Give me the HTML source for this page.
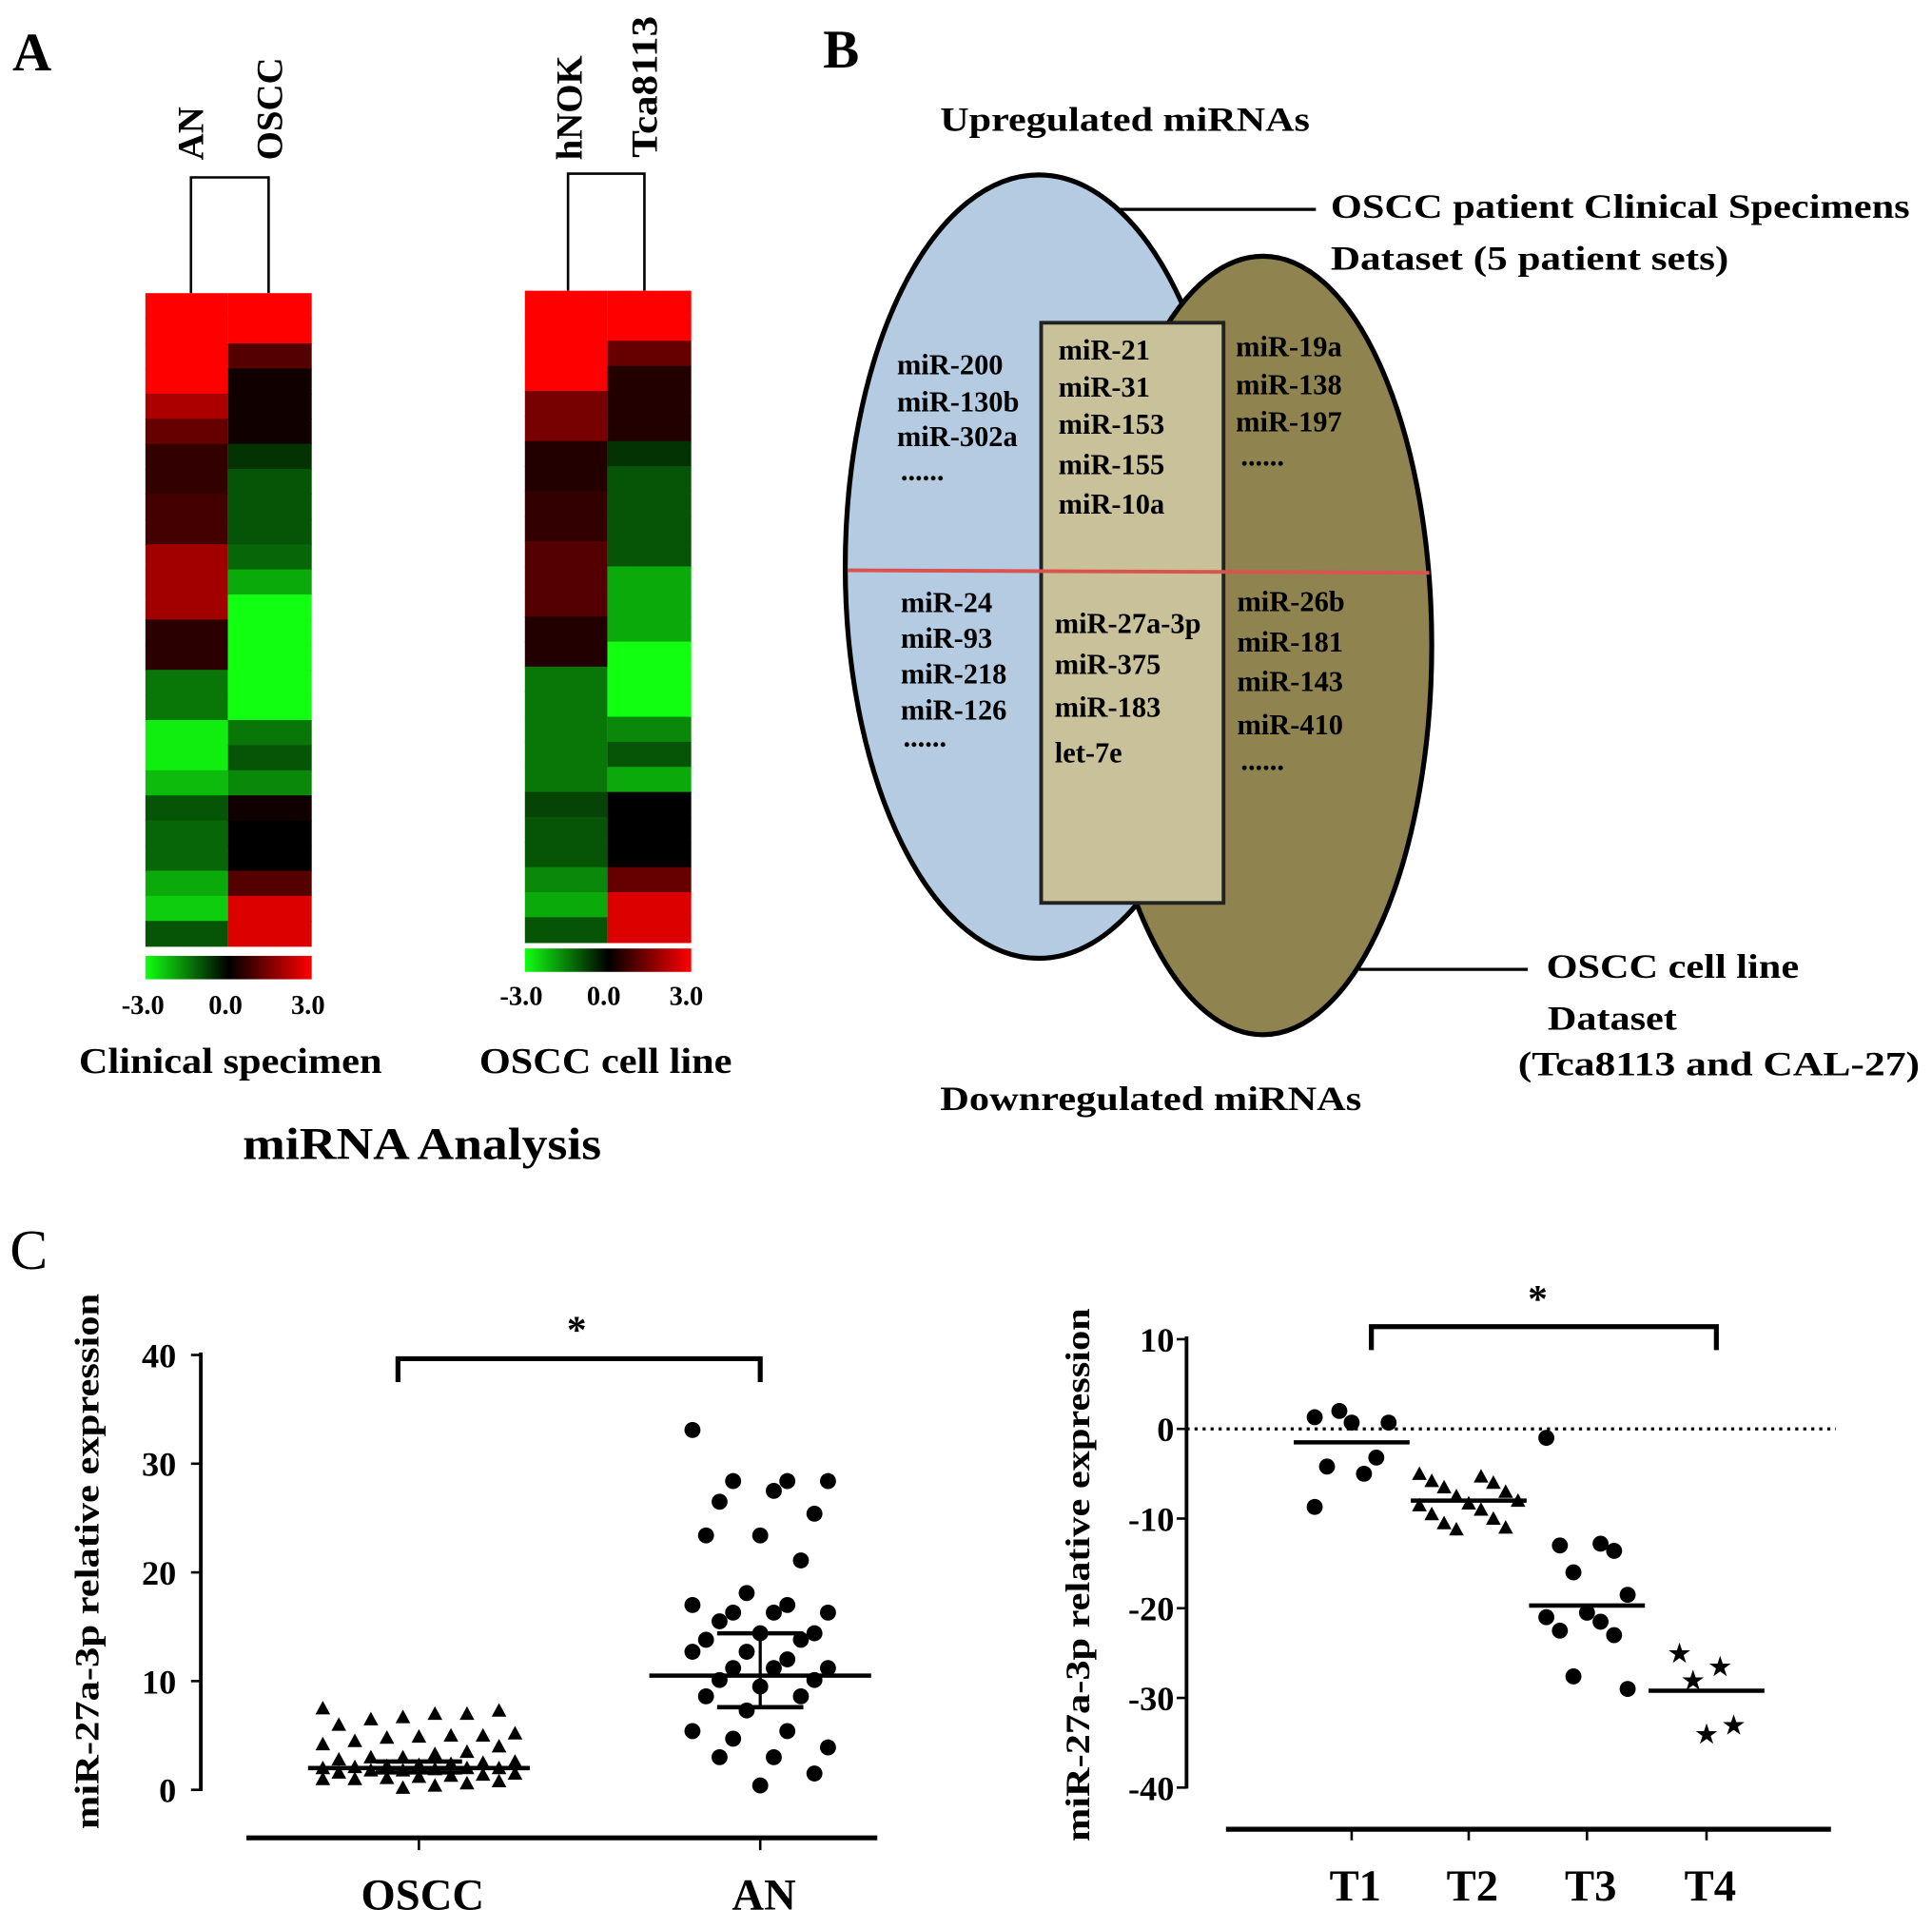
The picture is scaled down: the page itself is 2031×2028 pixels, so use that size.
<!DOCTYPE html>
<html><head><meta charset="utf-8"><style>
html,body{margin:0;padding:0;background:#fff;}
svg{display:block;}
text{font-family:"Liberation Serif",serif;font-weight:bold;fill:#000;}
</style></head><body>
<svg id="fig" width="2031" height="2028" viewBox="0 0 1568 1566" preserveAspectRatio="none" xmlns="http://www.w3.org/2000/svg">
<defs>
<linearGradient id="cb" x1="0" x2="1" y1="0" y2="0"><stop offset="0" stop-color="#1f1"/><stop offset="0.5" stop-color="#000"/><stop offset="1" stop-color="#f00"/></linearGradient>
</defs>
<text x="10" y="57" font-size="44">A</text>
<text x="668" y="55" font-size="44">B</text>
<text x="8" y="1030" font-size="46" style="font-weight:normal">C</text>

<text transform="translate(165,130) rotate(-90)" font-size="30">AN</text>
<text transform="translate(229,130) rotate(-90)" font-size="30">OSCC</text>
<text transform="translate(472,130) rotate(-90)" font-size="30">hNOK</text>
<text transform="translate(533,128) rotate(-90)" font-size="30" textLength="115" lengthAdjust="spacingAndGlyphs">Tca8113</text>
<path d="M155,238V144H218V238" fill="none" stroke="#000" stroke-width="2"/>
<path d="M461,236V141H523V236" fill="none" stroke="#000" stroke-width="2"/>
<g id="heat"></g>
<rect x="118" y="776" width="135" height="19" fill="url(#cb)"/>
<rect x="426" y="770" width="135" height="19" fill="url(#cb)"/>
<g font-size="22" text-anchor="middle">
<text x="116" y="823">-3.0</text>
<text x="183" y="823">0.0</text>
<text x="250" y="823">3.0</text>
<text x="423" y="816">-3.0</text>
<text x="490" y="816">0.0</text>
<text x="557" y="816">3.0</text>
</g>
<text x="64" y="871" font-size="29" textLength="246" lengthAdjust="spacingAndGlyphs">Clinical specimen</text>
<text x="389" y="871" font-size="29" textLength="205" lengthAdjust="spacingAndGlyphs">OSCC cell line</text>
<text x="197" y="941" font-size="37" textLength="291" lengthAdjust="spacingAndGlyphs">miRNA Analysis</text>

<text x="763" y="106" font-size="28" textLength="300" lengthAdjust="spacingAndGlyphs">Upregulated miRNAs</text>
<ellipse cx="843" cy="460" rx="157" ry="318" fill="#b4cbe2" stroke="#000" stroke-width="4"/>
<ellipse cx="1025" cy="524" rx="137" ry="316" fill="#8f8350" stroke="#000" stroke-width="4"/>
<rect x="845" y="262" width="148" height="471" fill="#c9c199" stroke="#222" stroke-width="3"/>
<line x1="688" y1="463" x2="1160" y2="465" stroke="#d9534f" stroke-width="3"/>
<line x1="908" y1="170" x2="1068" y2="170" stroke="#000" stroke-width="2.5"/>
<line x1="1103" y1="787" x2="1240" y2="787" stroke="#000" stroke-width="2.5"/>
<text x="1080" y="177" font-size="28" textLength="470" lengthAdjust="spacingAndGlyphs">OSCC patient Clinical Specimens</text>
<text x="1080" y="219" font-size="28" textLength="323" lengthAdjust="spacingAndGlyphs">Dataset (5 patient sets)</text>
<text x="1255" y="794" font-size="28" textLength="205" lengthAdjust="spacingAndGlyphs">OSCC cell line</text>
<text x="1256" y="836" font-size="28" textLength="105" lengthAdjust="spacingAndGlyphs">Dataset</text>
<text x="1232" y="873" font-size="28" textLength="326" lengthAdjust="spacingAndGlyphs">(Tca8113 and CAL-27)</text>
<text x="763" y="901" font-size="28" textLength="342" lengthAdjust="spacingAndGlyphs">Downregulated miRNAs</text>
<g font-size="23.5">
<text x="728" y="304">miR-200</text>
<text x="728" y="334">miR-130b</text>
<text x="728" y="362">miR-302a</text>
<text x="731" y="390">......</text>
<text x="859" y="292">miR-21</text>
<text x="859" y="322">miR-31</text>
<text x="859" y="352">miR-153</text>
<text x="859" y="385">miR-155</text>
<text x="859" y="417">miR-10a</text>
<text x="1003" y="289">miR-19a</text>
<text x="1003" y="320">miR-138</text>
<text x="1003" y="350">miR-197</text>
<text x="1007" y="378">......</text>
<text x="731" y="497">miR-24</text>
<text x="731" y="526">miR-93</text>
<text x="731" y="555">miR-218</text>
<text x="731" y="584">miR-126</text>
<text x="733" y="606">......</text>
<text x="856" y="514">miR-27a-3p</text>
<text x="856" y="547">miR-375</text>
<text x="856" y="582">miR-183</text>
<text x="856" y="619">let-7e</text>
<text x="1004" y="496">miR-26b</text>
<text x="1004" y="529">miR-181</text>
<text x="1004" y="561">miR-143</text>
<text x="1004" y="596">miR-410</text>
<text x="1007" y="625">......</text>
</g>

<text transform="translate(80,1485) rotate(-90)" font-size="28" textLength="435" lengthAdjust="spacingAndGlyphs">miR-27a-3p relative expression</text>
<text transform="translate(884,1495) rotate(-90)" font-size="28" textLength="433" lengthAdjust="spacingAndGlyphs">miR-27a-3p relative expression</text>
<g id="cleft"></g>
<g id="cright"></g>
</svg>
<script>
const heatRows = 26;
const clinicalAN   = [3,3,3,3,2.0,1.2,0.6,0.6,0.8,0.8,1.9,1.9,1.9,0.5,0.5,-1.4,-1.4,-2.8,-2.8,-2.2,-1.0,-1.2,-1.2,-2.0,-2.4,-1.0];
const clinicalOSCC = [3,3,1.0,0.2,0.2,0.2,-0.6,-1.0,-1.0,-1.0,-1.2,-2.0,-3,-3,-3,-3,-3,-1.4,-1.0,-1.6,0.2,0,0,1.0,2.6,2.6];
const cellHNOK     = [3,3,3,3,1.4,1.4,0.4,0.4,0.6,0.6,1.0,1.0,1.0,0.4,0.4,-1.4,-1.4,-1.4,-1.4,-1.4,-0.8,-1.0,-1.0,-1.6,-2.0,-1.0];
const cellTca      = [3,3,1.2,0.4,0.4,0.4,-0.6,-1.0,-1.0,-1.0,-1.0,-2.0,-2.0,-2.0,-3,-3,-3,-1.6,-1.0,-2.0,0,0,0,1.2,2.6,2.6];

const leftCats = ["OSCC","AN"];
const leftTicks = [0,10,20,30,40];
const osccVals = [7.5,7.3,7.0,7.0,6.7,6.5,6.0,5.2,5.0,5.0,4.9,4.8,4.5,4.2,4.0,3.5,3.3,3.0,3.0,2.8,2.6,2.5,2.4,2.3,2.2,2.1,2.0,2.0,2.0,1.9,1.8,1.8,1.6,1.5,1.4,1.3,1.2,1.1,1.0,1.0,0.8,0.6,0.4,0.2];
const anVals = [33.1,28.4,28.4,28.4,27.5,26.5,25.4,23.4,23.4,21.1,18.1,17.0,17.0,16.3,16.3,16.3,15.5,14.4,14.4,13.8,13.8,12.7,12.7,12.0,11.2,11.2,11.2,10.1,10.1,9.5,8.6,8.6,7.3,5.4,5.4,4.7,3.9,3.0,3.0,1.5,0.4];
const leftMeans = [2.0,10.5];
const leftSemLow = [1.6,7.6];
const leftSemHigh = [2.6,14.4];

const rightCats = ["T1","T2","T3","T4"];
const rightTicks = [10,0,-10,-20,-30,-40];
const t1Vals = [1.3,0.7,0.7,2.0,-3.2,-4.2,-5.0,-8.7];
const t2Vals = [-5.0,-5.3,-5.8,-6.0,-6.5,-7.0,-7.5,-8.0,-8.3,-8.5,-9.0,-9.5,-10.0,-10.5,-11.0,-11.2];
const t3Vals = [-1.0,-12.8,-13.0,-13.6,-16.0,-18.5,-20.5,-21.0,-21.5,-22.5,-23.0,-27.6,-29.0];
const t4Vals = [-25.0,-26.5,-28.0,-33.0,-34.0];
const rightMeans = [-1.5,-8.0,-19.7,-29.2];

const NS="http://www.w3.org/2000/svg";
function mk(tag, attrs, parent){const e=document.createElementNS(NS,tag);for(const k in attrs)e.setAttribute(k,attrs[k]);parent.appendChild(e);return e;}
function heatColor(v){const t=Math.min(1,Math.abs(v)/3);return v>=0?`rgb(${Math.round(255*t)},0,0)`:`rgb(${Math.round(17*t)},${Math.round(255*t)},${Math.round(17*t)})`;}

const heat=document.getElementById('heat');
function drawHeat(vals,x,w,y0,y1){
  const h=(y1-y0)/heatRows;
  vals.forEach((v,i)=>{
    const r=mk('rect',{x:x,y:y0+i*h,width:w,height:h+0.6,fill:heatColor(v)},heat);
    
    
  });
}
drawHeat(clinicalAN,118,67,238,768);
drawHeat(clinicalOSCC,185,68,238,768);
drawHeat(cellHNOK,426,67,236,765);
drawHeat(cellTca,493,68,236,765);

const L=document.getElementById('cleft');
const ly=v=>1453-v*(1453-1100)/40;
const lx=[340,617];
mk('line',{x1:163,y1:1098,x2:163,y2:1454,stroke:'#000','stroke-width':3},L);
mk('line',{x1:200,y1:1492,x2:712,y2:1492,stroke:'#000','stroke-width':4},L);
leftTicks.forEach(t=>{
  const l=mk('line',{x1:155,y1:ly(t),x2:163,y2:ly(t),stroke:'#000','stroke-width':2},L);
  
  const tx=mk('text',{x:143,y:ly(t)+10,'font-size':28,'text-anchor':'end'},L);tx.textContent=t;
  
});
leftCats.forEach((c,i)=>{
  mk('line',{x1:lx[i],y1:1492,x2:lx[i],y2:1502,stroke:'#000','stroke-width':2},L);
  const tx=mk('text',{x:lx[i]+3,y:1550,'font-size':36,'text-anchor':'middle'},L);tx.textContent=c;
  
});
osccVals.forEach((v,i)=>{
  const x=lx[0]+(((i*37)%13)-6)*13, y=ly(v);
  const p=mk('path',{d:`M${x},${y-6}L${x+6},${y+5}L${x-6},${y+5}Z`,fill:'#000'},L);
  
  
});
anVals.forEach((v,i)=>{
  const x=lx[1]+(((i*29)%11)-5)*11, y=ly(v);
  const c=mk('circle',{cx:x,cy:y,r:6.5,fill:'#000'},L);
  
  
});
leftMeans.forEach((m,i)=>{
  mk('line',{x1:lx[i]-90,y1:ly(m),x2:lx[i]+90,y2:ly(m),stroke:'#000','stroke-width':3.5},L);
  mk('line',{x1:lx[i]-35,y1:ly(leftSemLow[i]),x2:lx[i]+35,y2:ly(leftSemLow[i]),stroke:'#000','stroke-width':3.5},L);
  mk('line',{x1:lx[i]-35,y1:ly(leftSemHigh[i]),x2:lx[i]+35,y2:ly(leftSemHigh[i]),stroke:'#000','stroke-width':3.5},L);
  mk('line',{x1:lx[i],y1:ly(leftSemLow[i]),x2:lx[i],y2:ly(leftSemHigh[i]),stroke:'#000','stroke-width':2.5},L);
});
mk('path',{d:'M323,1122V1103H617V1122',fill:'none',stroke:'#000','stroke-width':4},L);
const s1=mk('text',{x:468,y:1090,'font-size':32,'text-anchor':'middle'},L);s1.textContent='*';


const R=document.getElementById('cright');
const ry=v=>1160-v*(1451-1087)/50;
const rx=[1097,1192,1288,1385];
mk('line',{x1:963,y1:1085,x2:963,y2:1452,stroke:'#000','stroke-width':3},R);
mk('line',{x1:995,y1:1485,x2:1486,y2:1485,stroke:'#000','stroke-width':4},R);
mk('line',{x1:963,y1:ry(0),x2:1490,y2:ry(0),stroke:'#000','stroke-width':2.5,'stroke-dasharray':'2.5,4'},R);
rightTicks.forEach(t=>{
  mk('line',{x1:955,y1:ry(t),x2:963,y2:ry(t),stroke:'#000','stroke-width':2},R);
  const tx=mk('text',{x:953,y:ry(t)+10,'font-size':28,'text-anchor':'end'},R);tx.textContent=t;
  
});
rightCats.forEach((c,i)=>{
  mk('line',{x1:rx[i],y1:1485,x2:rx[i],y2:1494,stroke:'#000','stroke-width':2},R);
  const tx=mk('text',{x:rx[i]+3,y:1543,'font-size':36,'text-anchor':'middle'},R);tx.textContent=c;
  
});
t1Vals.forEach((v,i)=>{
  const c=mk('circle',{cx:rx[0]+(((i*3)%7)-3)*10,cy:ry(v),r:6.5,fill:'#000'},R);
  
  
});
t2Vals.forEach((v,i)=>{
  const x=rx[1]+(((i*5)%9)-4)*10,y=ry(v);
  const p=mk('path',{d:`M${x},${y-6}L${x+6},${y+5}L${x-6},${y+5}Z`,fill:'#000'},R);
  
  
});
t3Vals.forEach((v,i)=>{
  const c=mk('circle',{cx:rx[2]+(((i*4)%7)-3)*11,cy:ry(v),r:6.5,fill:'#000'},R);
  
  
});
t4Vals.forEach((v,i)=>{
  const t=mk('text',{x:rx[3]+(((i*3)%5)-2)*11,y:ry(v)+7,'font-size':20,'text-anchor':'middle'},R);t.textContent='★';
  
  
});
rightMeans.forEach((m,i)=>{
  mk('line',{x1:rx[i]-47,y1:ry(m),x2:rx[i]+47,y2:ry(m),stroke:'#000','stroke-width':3.5},R);
});
mk('path',{d:'M1113,1096V1077H1393V1096',fill:'none',stroke:'#000','stroke-width':4},R);
const s2=mk('text',{x:1248,y:1065,'font-size':32,'text-anchor':'middle'},R);s2.textContent='*';

</script>
</body></html>
